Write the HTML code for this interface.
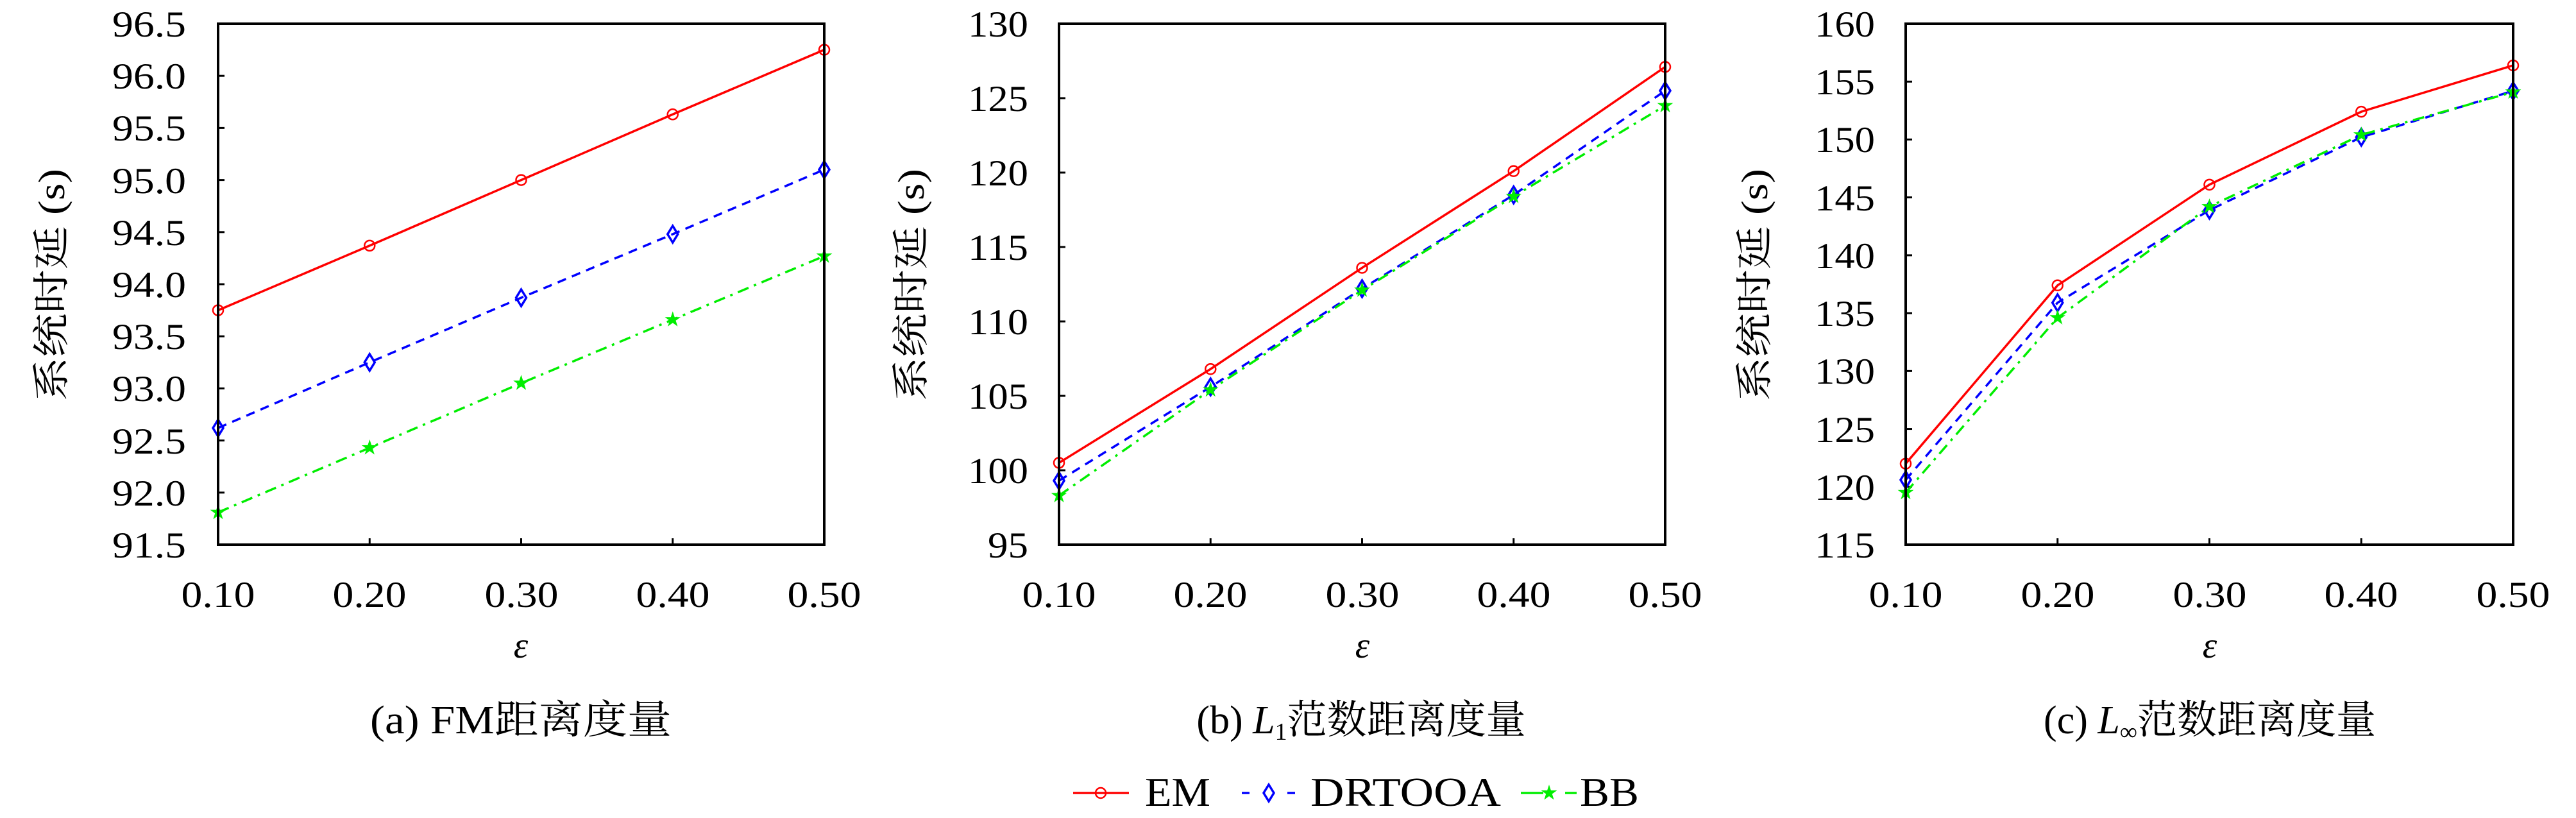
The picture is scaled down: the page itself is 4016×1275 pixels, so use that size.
<!DOCTYPE html>
<html><head><meta charset="utf-8"><style>
html,body{margin:0;padding:0;background:#fff;}
svg{display:block;}
text{font-family:"Liberation Serif","Noto Serif CJK SC",serif;fill:#000;}
.t{font-size:57px;}
.cj{font-family:"Liberation Serif","Noto Sans CJK SC",sans-serif;}
</style></head><body>
<svg id="s" width="4016" height="1275" viewBox="0 0 4016 1275" xmlns="http://www.w3.org/2000/svg">
<g class="t" text-anchor="end" lengthAdjust="spacingAndGlyphs">
<text x="290" y="869" textLength="115" lengthAdjust="spacingAndGlyphs">91.5</text><text x="290" y="788" textLength="115" lengthAdjust="spacingAndGlyphs">92.0</text><text x="290" y="707" textLength="115" lengthAdjust="spacingAndGlyphs">92.5</text><text x="290" y="625" textLength="115" lengthAdjust="spacingAndGlyphs">93.0</text><text x="290" y="544" textLength="115" lengthAdjust="spacingAndGlyphs">93.5</text><text x="290" y="463" textLength="115" lengthAdjust="spacingAndGlyphs">94.0</text><text x="290" y="382" textLength="115" lengthAdjust="spacingAndGlyphs">94.5</text><text x="290" y="301" textLength="115" lengthAdjust="spacingAndGlyphs">95.0</text><text x="290" y="219" textLength="115" lengthAdjust="spacingAndGlyphs">95.5</text><text x="290" y="138" textLength="115" lengthAdjust="spacingAndGlyphs">96.0</text><text x="290" y="57" textLength="115" lengthAdjust="spacingAndGlyphs">96.5</text>
<text x="1603" y="869" textLength="63" lengthAdjust="spacingAndGlyphs">95</text><text x="1603" y="753" textLength="94" lengthAdjust="spacingAndGlyphs">100</text><text x="1603" y="637" textLength="94" lengthAdjust="spacingAndGlyphs">105</text><text x="1603" y="521" textLength="94" lengthAdjust="spacingAndGlyphs">110</text><text x="1603" y="405" textLength="94" lengthAdjust="spacingAndGlyphs">115</text><text x="1603" y="289" textLength="94" lengthAdjust="spacingAndGlyphs">120</text><text x="1603" y="173" textLength="94" lengthAdjust="spacingAndGlyphs">125</text><text x="1603" y="57" textLength="94" lengthAdjust="spacingAndGlyphs">130</text>
<text x="2923" y="869" textLength="94" lengthAdjust="spacingAndGlyphs">115</text><text x="2923" y="779" textLength="94" lengthAdjust="spacingAndGlyphs">120</text><text x="2923" y="689" textLength="94" lengthAdjust="spacingAndGlyphs">125</text><text x="2923" y="598" textLength="94" lengthAdjust="spacingAndGlyphs">130</text><text x="2923" y="508" textLength="94" lengthAdjust="spacingAndGlyphs">135</text><text x="2923" y="418" textLength="94" lengthAdjust="spacingAndGlyphs">140</text><text x="2923" y="328" textLength="94" lengthAdjust="spacingAndGlyphs">145</text><text x="2923" y="237" textLength="94" lengthAdjust="spacingAndGlyphs">150</text><text x="2923" y="147" textLength="94" lengthAdjust="spacingAndGlyphs">155</text><text x="2923" y="57" textLength="94" lengthAdjust="spacingAndGlyphs">160</text>
</g>
<g class="t" text-anchor="middle">
<text x="340" y="946" textLength="115" lengthAdjust="spacingAndGlyphs">0.10</text><text x="576" y="946" textLength="115" lengthAdjust="spacingAndGlyphs">0.20</text><text x="813" y="946" textLength="115" lengthAdjust="spacingAndGlyphs">0.30</text><text x="1049" y="946" textLength="115" lengthAdjust="spacingAndGlyphs">0.40</text><text x="1285" y="946" textLength="115" lengthAdjust="spacingAndGlyphs">0.50</text>
<text x="1651" y="946" textLength="115" lengthAdjust="spacingAndGlyphs">0.10</text><text x="1887" y="946" textLength="115" lengthAdjust="spacingAndGlyphs">0.20</text><text x="2124" y="946" textLength="115" lengthAdjust="spacingAndGlyphs">0.30</text><text x="2360" y="946" textLength="115" lengthAdjust="spacingAndGlyphs">0.40</text><text x="2596" y="946" textLength="115" lengthAdjust="spacingAndGlyphs">0.50</text>
<text x="2971" y="946" textLength="115" lengthAdjust="spacingAndGlyphs">0.10</text><text x="3208" y="946" textLength="115" lengthAdjust="spacingAndGlyphs">0.20</text><text x="3445" y="946" textLength="115" lengthAdjust="spacingAndGlyphs">0.30</text><text x="3681" y="946" textLength="115" lengthAdjust="spacingAndGlyphs">0.40</text><text x="3918" y="946" textLength="115" lengthAdjust="spacingAndGlyphs">0.50</text>
<text x="812" y="1025" font-style="italic">ε</text><text x="2124" y="1025" font-style="italic">ε</text><text x="3445" y="1025" font-style="italic">ε</text>
</g>
<g class="cj" font-size="58" text-anchor="middle">
<text transform="translate(100,444) rotate(-90)" textLength="362" lengthAdjust="spacingAndGlyphs">系统时延 (s)</text>
<text transform="translate(1440,444) rotate(-90)" textLength="362" lengthAdjust="spacingAndGlyphs">系统时延 (s)</text>
<text transform="translate(2755,444) rotate(-90)" textLength="362" lengthAdjust="spacingAndGlyphs">系统时延 (s)</text>
</g>
<g font-size="62" class="cj" text-anchor="middle">
<text x="812" y="1143" textLength="470" lengthAdjust="spacingAndGlyphs">(a) FM距离度量</text>
<text x="2122" y="1143">(b) <tspan font-style="italic">L</tspan><tspan font-size="38" dy="10">1</tspan><tspan dy="-10">范数距离度量</tspan></text>
<text x="3445" y="1143">(c) <tspan font-style="italic">L</tspan><tspan font-size="38" dy="10">∞</tspan><tspan dy="-10">范数距离度量</tspan></text>
</g>
<g font-size="64">
<text x="1785" y="1256" textLength="102" lengthAdjust="spacingAndGlyphs">EM</text>
<text x="2043" y="1256" textLength="297" lengthAdjust="spacingAndGlyphs">DRTOOA</text>
<text x="2463" y="1256" textLength="92" lengthAdjust="spacingAndGlyphs">BB</text>
</g>
<g id="g"></g>
</svg>
<script>
var g=document.getElementById('g'),NS='http://www.w3.org/2000/svg';
function el(t,a){var e=document.createElementNS(NS,t);for(var k in a)e.setAttribute(k,a[k]);g.appendChild(e);return e;}
var cols={EM:'#ff0000',DR:'#0000ff',BB:'#00ee00'};
var dash={EM:'',DR:'14 10',BB:'18 9 4 9'};
function marker(k,x,y){
 if(k=='EM')el('circle',{cx:x,cy:y,r:8,fill:'none',stroke:'#ff0000','stroke-width':2.5});
 else if(k=='DR')el('path',{d:'M'+x+' '+(y-13)+'L'+(x+8)+' '+y+'L'+x+' '+(y+13)+'L'+(x-8)+' '+y+'Z',fill:'none',stroke:'#0000ff','stroke-width':3.5});
 else{var p='';for(var i=0;i<10;i++){var r=i%2?5:13,a=-Math.PI/2+i*Math.PI/5;p+=(i?'L':'M')+(x+r*Math.cos(a)).toFixed(1)+' '+(y+r*Math.sin(a)).toFixed(1);}el('path',{d:p+'Z',fill:'#00ee00'});}
}
var P=[
 {l:340,r:1285,lo:91.5,hi:96.5,ticks:10,d:{EM:[93.75,94.37,95.0,95.63,96.25],DR:[92.62,93.25,93.87,94.48,95.1],BB:[91.81,92.43,93.05,93.66,94.27]}},
 {l:1651,r:2596,lo:95,hi:130,ticks:7,d:{EM:[100.5,106.8,113.6,120.1,127.1],DR:[99.3,105.6,112.2,118.5,125.5],BB:[98.3,105.4,112.1,118.4,124.5]}},
 {l:2971,r:3918,lo:115,hi:160,ticks:9,d:{EM:[122,137.4,146.1,152.4,156.4],DR:[120.6,135.9,143.9,150.2,154.2],BB:[119.5,134.6,144.2,150.4,154.1]}}
];
var T=37,B=849;
P.forEach(function(p){
 for(var i=1;i<p.ticks;i++){var y=B-i*(B-T)/p.ticks;el('line',{x1:p.l,x2:p.l+10,y1:y,y2:y,stroke:'#000','stroke-width':3});}
 for(var i=1;i<4;i++){var x=p.l+i*(p.r-p.l)/4;el('line',{x1:x,x2:x,y1:B,y2:B-10,stroke:'#000','stroke-width':3});}
 ['EM','DR','BB'].forEach(function(k){
  var pts=p.d[k].map(function(v,i){return [p.l+i*(p.r-p.l)/4,B-(v-p.lo)/(p.hi-p.lo)*(B-T)];});
  var a={points:pts.map(function(q){return q.join(',')}).join(' '),fill:'none',stroke:cols[k],'stroke-width':3.5};
  if(dash[k])a['stroke-dasharray']=dash[k];
  el('polyline',a);
 });
 ['EM','DR','BB'].forEach(function(k){p.d[k].forEach(function(v,i){marker(k,p.l+i*(p.r-p.l)/4,B-(v-p.lo)/(p.hi-p.lo)*(B-T));});});
 el('rect',{x:p.l,y:T,width:p.r-p.l,height:B-T,fill:'none',stroke:'#000','stroke-width':4});
});
var ly=1236;
el('line',{x1:1673,x2:1760,y1:ly,y2:ly,stroke:'#ff0000','stroke-width':3.5});marker('EM',1716,ly);
el('line',{x1:1936,x2:1948,y1:ly,y2:ly,stroke:'#0000ff','stroke-width':3.5});el('line',{x1:2007,x2:2019,y1:ly,y2:ly,stroke:'#0000ff','stroke-width':3.5});
marker('DR',1978,ly);
el('line',{x1:2371,x2:2406,y1:ly,y2:ly,stroke:'#00ee00','stroke-width':3.5});el('line',{x1:2440,x2:2458,y1:ly,y2:ly,stroke:'#00ee00','stroke-width':3.5});
marker('BB',2415,ly);
</script>
</body></html>
